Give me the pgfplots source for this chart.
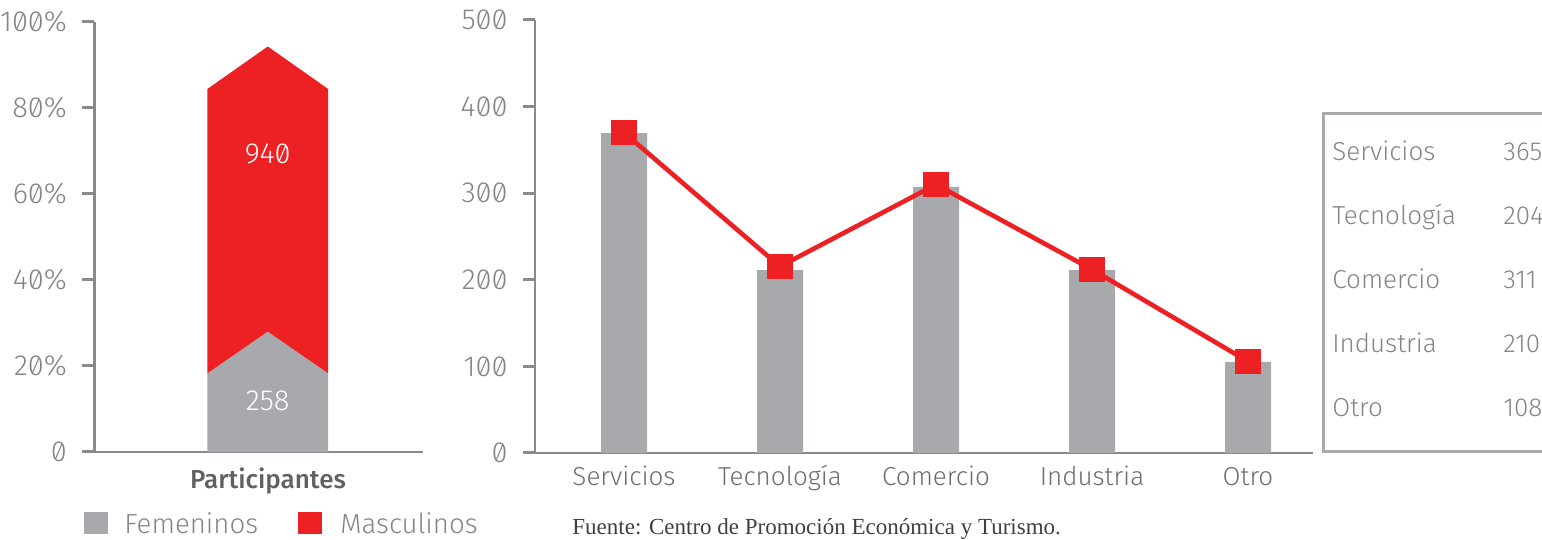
\documentclass[border=0pt]{standalone}
\usepackage{pgfplots}
\pgfplotsset{compat=1.18}
\usepackage{fontspec}
\setmainfont{Fira Sans Light}[BoldFont={Fira Sans Medium}]
\newfontfamily\tickfont{Fira Sans Light}[RawFeature=+zero]
\newfontfamily\medfont{Fira Sans Medium}
\newfontfamily\seriffont{Liberation Serif}
\definecolor{bargray}{HTML}{A7A9AC}
\definecolor{cred}{HTML}{ED2024}
\definecolor{axgray}{HTML}{8A8A8A}
\definecolor{txgray}{HTML}{858585}
\definecolor{labgray}{HTML}{6D6E71}
\definecolor{pgray}{HTML}{606163}

\pgfplotsset{
 mystyle/.style={
  scale only axis, anchor=south west,
  axis x line=bottom, axis y line=left,
  axis line style={-, draw=axgray, line width=1.3pt},
  tick align=outside, major tick length=6pt,
  every tick/.style={draw=axgray, line width=1.5pt},
  yticklabel style={font=\tickfont\fontsize{14.5}{14.5}\selectfont, text=txgray, inner sep=0pt, xshift=-7.5pt},
  /pgf/number format/assume math mode=true,
  clip=false,
 }
}

\begin{document}
\begin{tikzpicture}
\useasboundingbox (0,0) rectangle (771pt,270pt);
\clip (0,0) rectangle (771pt,270pt);

% Left: participants
\begin{axis}[mystyle, at={(47.15pt,44pt)}, width=164.2pt, height=215pt,
  xmin=-1.434, xmax=1.281, ymin=0, ymax=100, xtick=\empty,
  ytick={0,20,40,60,80,100}, yticklabels={0,20\%,40\%,60\%,80\%,100\%}]
\addplot[fill=bargray, draw=none] coordinates {(-0.5,0) (-0.5,18.3) (0,28.0) (0.5,18.3) (0.5,0)};
\addplot[fill=cred, draw=none] coordinates {(-0.5,18.3) (0,28.0) (0.5,18.3) (0.5,84.4) (0,94.3) (-0.5,84.4)};
\node[text=white, font=\tickfont\fontsize{14.5}{14.5}\selectfont] at (axis cs:0,69.3) {940};
\node[text=white, font=\tickfont\fontsize{14.5}{14.5}\selectfont] at (axis cs:0,11.9) {258};
\end{axis}

\node[anchor=base, font=\medfont\fontsize{13}{13}\selectfont, text=pgray] at (134pt,25.85pt) {Participantes};

% legend
\fill[bargray] (42pt,2.85pt) rectangle (53.85pt,14.15pt);
\node[anchor=base west, inner sep=0pt, font=\fontsize{13.8}{13.8}\selectfont, text=txgray] at (62pt,3pt) {Femeninos};
\fill[cred] (148.85pt,2.85pt) rectangle (160.85pt,14.15pt);
\node[anchor=base west, inner sep=0pt, font=\fontsize{13.8}{13.8}\selectfont, text=txgray] at (170pt,3pt) {Masculinos};

% Right: sectors
\begin{axis}[mystyle, at={(267.5pt,43.5pt)}, width=389pt, height=216.5pt,
  xmin=-0.5705, xmax=4.4167, ymin=0, ymax=500, ytick={0,100,...,500},
  xtick={0,1,2,3,4}, xticklabels={Servicios,Tecnología,Comercio,Industria,Otro},
  x tick style={draw=none},
  xticklabel style={font=\fontsize{13}{13}\selectfont, text=labgray, anchor=north, inner sep=0pt, text height=9pt, yshift=-0.85pt}]
\addplot[ybar, bar width=23pt, fill=bargray, draw=none] coordinates {(0,369.5) (1,211.3) (2,307.2) (3,211.3) (4,105.1)};
\addplot[cred, line width=2.3pt, mark=square*, mark size=5.25pt, mark options={fill=cred, draw=none}] coordinates {(0,370) (1,215.4) (2,310) (3,211.9) (4,105.7)};
\end{axis}

% table box
\draw[bargray, line width=1.5pt] (661.5pt,44pt) rectangle (820pt,213pt);
\begin{scope}[every node/.style={anchor=base west, inner sep=0pt, font=\fontsize{13}{13}\selectfont, text=txgray}]
\node at (666pt,189.5pt) {Servicios};  \node at (751.5pt,189.5pt) {365};
\node at (666pt,157.5pt) {Tecnología}; \node at (751.5pt,157.5pt) {204};
\node at (666pt,125.5pt) {Comercio};   \node at (751.5pt,125.5pt) {311};
\node at (666pt,93.5pt) {Industria};   \node at (751.5pt,93.5pt) {210};
\node at (666pt,61.5pt) {Otro};        \node at (751.5pt,61.5pt) {108};
\end{scope}

\node[anchor=base west, inner sep=0pt, font=\seriffont\fontsize{11.5}{11.5}\selectfont, text=black!75] at (286pt,2.6pt) {Fuente: Centro de Promoción Económica y Turismo.};
\end{tikzpicture}
\end{document}
